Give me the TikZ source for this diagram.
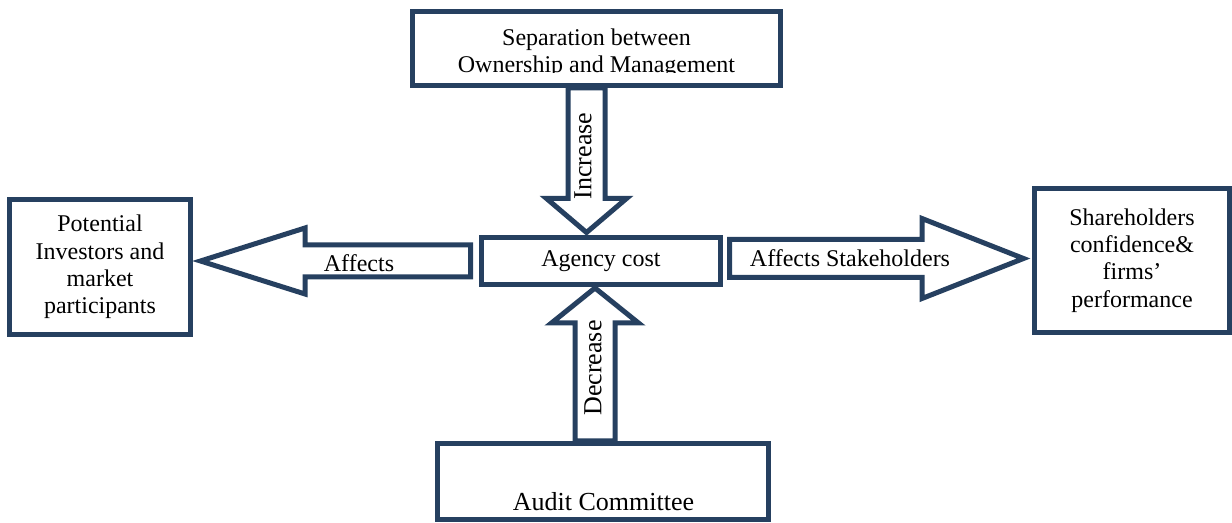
\documentclass[tikz,border=0pt]{standalone}
\usepackage{fontspec}
\setmainfont{Liberation Serif}
\usepackage{xcolor}
\definecolor{navy}{RGB}{38,64,96}

\begin{document}
\begin{tikzpicture}[x=0.5pt, y=-0.5pt, font=\fontsize{12}{13.6}\selectfont,
	box/.style={draw=navy, line width=2.5pt, fill=white, align=center, inner sep=0pt},
	blockarrow/.style={draw=navy, line width=2.5pt, fill=white, line join=miter},
	big/.style={font=\fontsize{13}{15}\selectfont}]
	\useasboundingbox (0,0) rectangle (1232,523);
	% boxes
	\node[box, minimum width=184pt, minimum height=37pt] (sep) at (596.5,48.5) {};
	\node[box, minimum width=90.5pt, minimum height=67.5pt] (inv) at (100,267) {Potential\\Investors and\\market\\participants};
	\node[box, minimum width=119.5pt, minimum height=23.5pt] (agency) at (601,261) {Agency cost};
	\node[box, minimum width=97.5pt, minimum height=72pt] (share) at (1132,260.5) {Shareholders\\confidence\&\\firms'\\performance};
	\node[box, minimum width=165.5pt, minimum height=38pt] (audit) at (603,481.5) {};
	\begin{scope}
		\clip (413,14) rectangle (780,73);
		\node[align=center] (septext) at (596.5,53) {Separation between\\Ownership and Management};
	\end{scope}
	\node[big, anchor=base] (audittext) at (603.5,510) {Audit Committee};
	% block arrows
	\coordinate (inctail) at ([xshift=-5pt]sep.south);
	\coordinate (dectail) at ([xshift=-4pt]audit.north);
	\coordinate (afftail) at ([xshift=-4.25pt]agency.west);
	\coordinate (stktail) at ([shift={(3.25pt,1.25pt)}]agency.east);
	\draw[blockarrow] (inctail) ++(-18.5,0) -- ++(0,110.5) -- ++(-21.5,0) -- ++(40,34) -- ++(40,-34) -- ++(-21.5,0) -- ++(0,-110.5) -- cycle;
	\draw[blockarrow] (dectail) ++(-20,0) -- ++(0,-118) -- ++(-23.5,0) -- ++(43.5,-35) -- ++(43.5,35) -- ++(-23.5,0) -- ++(0,118) -- cycle;
	\draw[blockarrow] (afftail) ++(0,-16) -- ++(-165.5,0) -- ++(0,-17) -- ++(-104.5,33) -- ++(104.5,33) -- ++(0,-17) -- ++(165.5,0) -- cycle;
	\draw[blockarrow] (stktail) ++(0,-19) -- ++(192.5,0) -- ++(0,-21) -- ++(101.5,40) -- ++(-101.5,40) -- ++(0,-21) -- ++(-192.5,0) -- cycle;
	\node[big, rotate=90] (inc) at (583,156) {Increase};
	\node[big, rotate=90] (dec) at (593,368) {Decrease};
	\node[anchor=base] (aff) at (359,272) {Affects};
	\node[anchor=base] (stk) at (850,267) {Affects Stakeholders};
\end{tikzpicture}
\end{document}
